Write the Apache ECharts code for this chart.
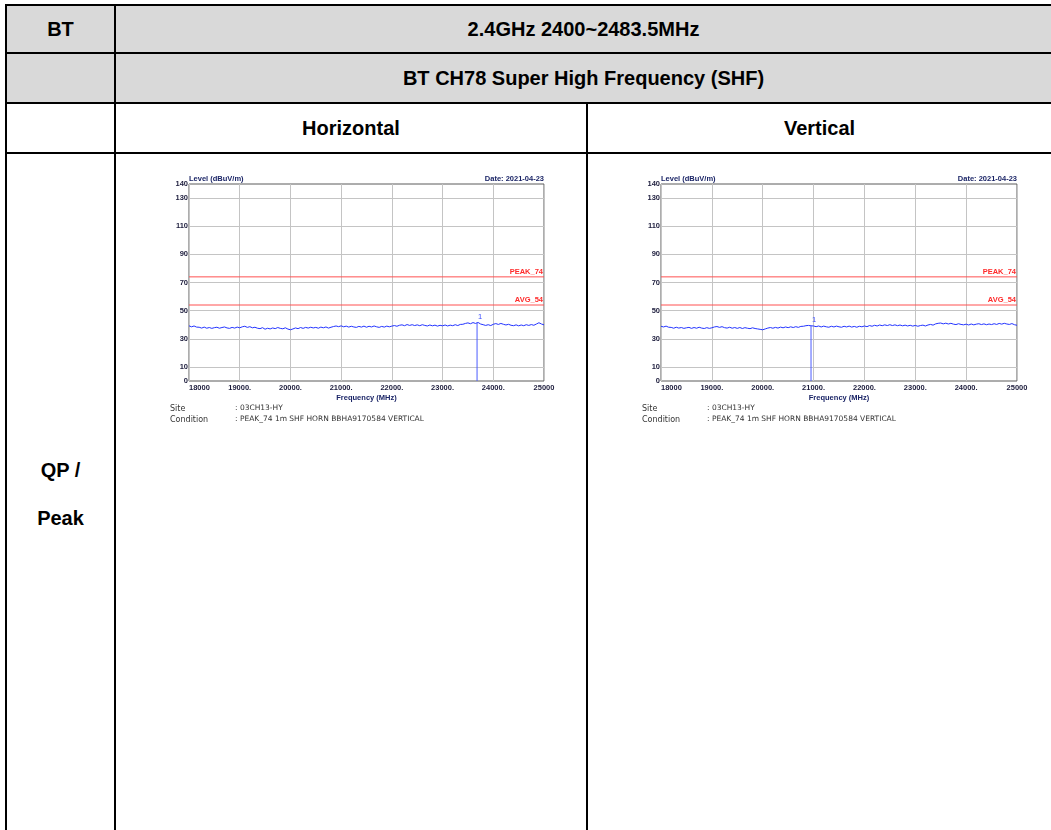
<!DOCTYPE html>
<html>
<head>
<meta charset="utf-8">
<script src="https://cdn.jsdelivr.net/npm/echarts@6/dist/echarts.min.js"></script>
<style>
  html, body { margin: 0; padding: 0; background: #fff; }
  #page { position: relative; width: 1051px; height: 830px; overflow: hidden; font-family: "Liberation Sans", Arial, sans-serif; }
  .fill { position: absolute; background: #d9d9d9; }
  .hl { position: absolute; background: #000; height: 2px; }
  .vl { position: absolute; background: #000; width: 2px; }
  .txt { position: absolute; font-weight: bold; font-size: 20px; color: #000; text-align: center; transform: translateY(-50%); white-space: nowrap; }
  #chart { position: absolute; left: 0; top: 0; width: 1051px; height: 830px; }
</style>
</head>
<body>
<div id="page">
  <div class="fill" style="left:7px;top:6px;width:1044px;height:96px;"></div>
  <div class="hl" style="left:5px;top:4px;width:1046px;"></div>
  <div class="hl" style="left:5px;top:52px;width:1046px;"></div>
  <div class="hl" style="left:5px;top:102px;width:1046px;"></div>
  <div class="hl" style="left:5px;top:152px;width:1046px;"></div>
  <div class="vl" style="left:5px;top:4px;height:826px;"></div>
  <div class="vl" style="left:114px;top:4px;height:826px;"></div>
  <div class="vl" style="left:586px;top:102px;height:728px;"></div>

  <div class="txt" style="left:7px;width:107px;top:29px;">BT</div>
  <div class="txt" style="left:116px;width:935px;top:29px;">2.4GHz 2400~2483.5MHz</div>
  <div class="txt" style="left:116px;width:935px;top:78px;">BT CH78 Super High Frequency (SHF)</div>
  <div class="txt" style="left:116px;width:470px;top:128px;">Horizontal</div>
  <div class="txt" style="left:588px;width:463px;top:128px;">Vertical</div>
  <div class="txt" style="left:7px;width:107px;top:470px;">QP /</div>
  <div class="txt" style="left:7px;width:107px;top:518px;">Peak</div>

  <div id="chart"></div>
</div>
<script>
// 频率点 (MHz)
const freqs = [
  18000, 18050, 18100, 18150, 18200, 18250, 18300, 18350, 18400, 18450,
  18500, 18550, 18600, 18650, 18700, 18750, 18800, 18850, 18900, 18950,
  19000, 19050, 19100, 19150, 19200, 19250, 19300, 19350, 19400, 19450,
  19500, 19550, 19600, 19650, 19700, 19750, 19800, 19850, 19900, 19950,
  20000, 20050, 20100, 20150, 20200, 20250, 20300, 20350, 20400, 20450,
  20500, 20550, 20600, 20650, 20700, 20750, 20800, 20850, 20900, 20950,
  21000, 21050, 21100, 21150, 21200, 21250, 21300, 21350, 21400, 21450,
  21500, 21550, 21600, 21650, 21700, 21750, 21800, 21850, 21900, 21950,
  22000, 22050, 22100, 22150, 22200, 22250, 22300, 22350, 22400, 22450,
  22500, 22550, 22600, 22650, 22700, 22750, 22800, 22850, 22900, 22950,
  23000, 23050, 23100, 23150, 23200, 23250, 23300, 23350, 23400, 23450,
  23500, 23550, 23600, 23650, 23700, 23750, 23800, 23850, 23900, 23950,
  24000, 24050, 24100, 24150, 24200, 24250, 24300, 24350, 24400, 24450,
  24500, 24550, 24600, 24650, 24700, 24750, 24800, 24850, 24900, 24950,
  25000
];

// Horizontal 电平 (dBuV/m)
const levelH = [
  39.2, 38.5, 39.1, 38.3, 38.2, 37.6, 38.3, 37.5, 38.0, 37.4,
  37.9, 38.2, 37.5, 38.0, 38.4, 37.7, 37.4, 38.1, 37.6, 38.3,
  37.8, 38.5, 38.9, 38.1, 38.6, 37.8, 38.2, 37.5, 37.2, 37.9,
  36.8, 37.5, 37.0, 37.7, 37.2, 38.0, 37.4, 37.1, 37.8, 36.9,
  36.4, 37.0, 37.7, 37.2, 38.0, 37.4, 38.1, 37.6, 38.2, 37.7,
  38.1, 37.5, 38.3, 37.8, 38.4, 37.6, 38.2, 38.7, 39.1, 38.6,
  39.2, 38.5, 39.0, 38.3, 38.9, 38.4, 38.1, 38.8, 38.3, 39.0,
  38.2, 38.9, 38.4, 39.1, 38.5, 38.1, 38.8, 38.3, 39.0, 38.5,
  39.0, 39.4, 38.9, 39.6, 39.9, 39.3, 40.1, 39.5, 40.0, 39.4,
  39.9, 39.3, 40.0, 39.5, 39.1, 39.8, 39.2, 39.7, 39.0, 39.6,
  39.2, 39.8, 39.1, 39.7, 39.3, 40.0, 39.4, 40.2, 40.3, 40.9,
  41.3, 40.7, 41.5, 40.9, 41.6, 40.5, 40.0, 39.5, 40.0, 39.4,
  40.3, 40.8, 40.2, 40.9, 40.3, 39.8, 40.3, 39.6, 39.3, 39.9,
  39.2, 39.8, 39.3, 40.0, 39.5, 40.1, 39.6, 40.5, 41.4, 40.5,
  39.9
];

// Vertical 电平 (dBuV/m)
const levelV = [
  38.9, 38.4, 39.0, 38.2, 38.1, 37.5, 38.2, 37.6, 38.0, 37.4,
  37.8, 38.1, 37.4, 38.0, 37.5, 38.2, 37.6, 37.3, 37.9, 37.4,
  37.8, 38.4, 38.7, 38.1, 38.6, 37.9, 37.6, 38.2, 37.5, 38.0,
  37.4, 38.0, 37.3, 37.9, 37.5, 37.2, 37.8, 37.3, 37.0, 36.7,
  36.4, 37.0, 37.6, 38.0, 37.5, 38.1, 37.6, 38.3, 37.8, 38.4,
  37.9, 38.5, 38.0, 38.6, 38.1, 38.8, 38.9, 39.3, 39.5, 39.2,
  39.1, 38.6, 39.1, 38.4, 39.0, 38.5, 38.2, 38.9, 38.4, 39.0,
  38.5, 38.2, 38.9, 38.4, 39.0, 38.3, 38.8, 38.2, 38.9, 38.5,
  39.1, 38.6, 39.4, 38.9, 39.6, 39.1, 39.8, 39.3, 39.9, 39.4,
  40.0, 39.4, 39.9, 39.3, 39.8, 39.2, 39.7, 39.1, 39.6, 39.0,
  39.5, 38.9, 39.4, 39.7, 39.1, 39.8, 40.2, 39.7, 40.6, 41.0,
  41.2, 40.6, 41.1, 40.5, 41.0, 40.4, 40.1, 40.7, 40.2, 39.9,
  40.4, 39.8, 40.5, 39.9, 40.4, 40.7, 40.1, 40.6, 40.0, 40.5,
  40.1, 40.7, 40.2, 40.9, 40.4, 41.0, 40.5, 40.2, 40.8, 40.0,
  39.6
];

// 标记点 1
const markerFreq = [23680, 20950];
const markerLevel = [41.5, 39.4];

// 限值线
const limitValues = [74, 54];
const limitNames = ['PEAK_74', 'AVG_54'];

// 刻度
const yTicks = [0, 10, 30, 50, 70, 90, 110, 130, 140];
const xTickLabels = ['18000', '19000.', '20000.', '21000.', '22000.', '23000.', '24000.', '25000'];

const grids = [
  { left: 189, top: 184, width: 355, height: 197 },
  { left: 661, top: 184, width: 356, height: 197 }
];
const levels = [levelH, levelV];

const chart = echarts.init(document.getElementById('chart'));

const lblColor = '#1c1c3c';
const limitColor = '#ff5050';
const markerColor = '#4b5cff';
const titles = [];
const xAxes = [];
const yAxes = [];
const series = [];

grids.forEach(function (g, i) {
  titles.push({
    text: 'Level (dBuV/m)', left: g.left - 5, top: 170, padding: 5,
    textStyle: { fontSize: 7.5, fontWeight: 'bold', color: '#1a2466', fontFamily: 'Liberation Sans' }
  });
  titles.push({
    text: 'Date: 2021-04-23', right: 1051 - g.left - g.width - 5, top: 170, padding: 5,
    textStyle: { fontSize: 7.5, fontWeight: 'bold', color: '#1a2466', fontFamily: 'Liberation Sans' }
  });
  titles.push({
    text: 'Site\nCondition', left: g.left - 24, top: 398,
    textStyle: { fontSize: 8, fontWeight: 'normal', color: '#333', lineHeight: 11, fontFamily: 'DejaVu Sans' }
  });
  titles.push({
    text: ': 03CH13-HY\n: PEAK_74 1m SHF HORN BBHA9170584 VERTICAL', left: g.left + 41, top: 398,
    textStyle: { fontSize: 7.5, fontWeight: 'normal', color: '#333', lineHeight: 11, fontFamily: 'DejaVu Sans' }
  });

  xAxes.push({
    gridIndex: i, type: 'value', min: 18000, max: 25000, interval: 1000,
    name: 'Frequency (MHz)', nameLocation: 'middle', nameGap: 13,
    nameTextStyle: { fontSize: 7.5, fontWeight: 'bold', color: '#1a2466', fontFamily: 'Liberation Sans' },
    axisLine: { show: false }, axisTick: { show: false },
    axisLabel: {
      margin: 3, fontSize: 7.5, fontWeight: 'bold', color: lblColor, fontFamily: 'Liberation Sans',
      alignMinLabel: 'left',
      formatter: function (v) { return xTickLabels[Math.round((v - 18000) / 1000)]; }
    },
    splitLine: { show: true, lineStyle: { color: '#c4c4c4', width: 1 } }
  });
  yAxes.push({
    gridIndex: i, type: 'value', min: 0, max: 140, interval: 10,
    axisLine: { show: false }, axisTick: { show: false },
    axisLabel: {
      margin: 1, fontSize: 7.5, fontWeight: 'bold', color: lblColor, fontFamily: 'Liberation Sans',
      formatter: function (v) { return yTicks.indexOf(v) >= 0 ? String(v) : ''; }
    },
    splitLine: { show: true, lineStyle: { color: ['transparent', '#c4c4c4'], width: 1 } }
  });

  // 限值线
  limitValues.forEach(function (v, k) {
    series.push({
      type: 'line', xAxisIndex: i, yAxisIndex: i,
      data: [[18000, v], [25000, v]],
      showSymbol: false, animation: false, silent: true,
      itemStyle: { color: limitColor },
      lineStyle: { color: limitColor, width: 1 },
      endLabel: {
        show: true, formatter: limitNames[k], color: '#ff2a2a', fontSize: 7.5, fontWeight: 'bold',
        fontFamily: 'Liberation Sans', align: 'right', verticalAlign: 'bottom', distance: 0, offset: [-1, -1]
      },
      z: 2
    });
  });

  // 扫描曲线
  series.push({
    type: 'line', xAxisIndex: i, yAxisIndex: i,
    data: freqs.map(function (f, k) { return [f, levels[i][k]]; }),
    showSymbol: false, animation: false,
    itemStyle: { color: '#2233ff' },
    lineStyle: { color: '#2233ff', width: 1 },
    z: 3
  });

  // 标记 1
  series.push({
    type: 'line', xAxisIndex: i, yAxisIndex: i,
    data: [[markerFreq[i], 0], [markerFreq[i], markerLevel[i]]],
    showSymbol: false, animation: false,
    itemStyle: { color: markerColor },
    lineStyle: { color: markerColor, width: 1 },
    endLabel: {
      show: true, formatter: '1', color: '#3a4cff', fontSize: 7.5,
      fontFamily: 'Liberation Sans', offset: [-7, -6]
    },
    z: 4
  });
});

chart.setOption({
  animation: false,
  title: titles,
  grid: grids.map(function (g) {
    return Object.assign({ show: true, borderColor: '#5a5a5a', borderWidth: 1, backgroundColor: 'transparent' }, g);
  }),
  xAxis: xAxes,
  yAxis: yAxes,
  series: series
});

window.addEventListener('resize', function () { chart.resize(); });
</script>
</body>
</html>
